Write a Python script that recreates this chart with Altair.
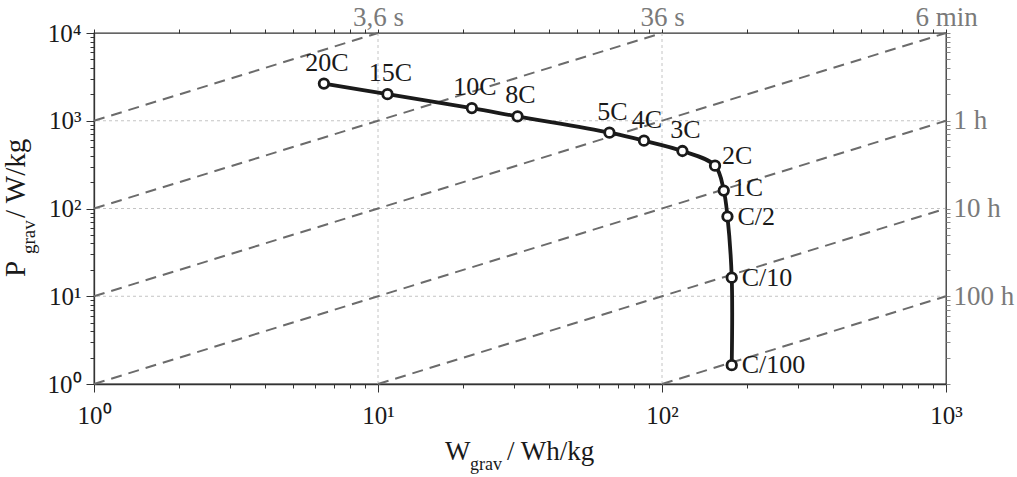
import altair as alt
import pandas as pd

# ---- data ----
rates = ["20C", "15C", "10C", "8C", "5C", "4C", "3C", "2C", "1C", "C/2", "C/10", "C/100"]
w_grav = [6.45, 10.8, 21.4, 31.0, 65.3, 86.4, 118, 153.7, 165, 170, 176, 176]
p_grav = [2655, 2011, 1394, 1120, 731, 593, 452, 308, 160, 81, 16.3, 1.64]
label_side = ["above"] * 7 + ["upper right", "right high"] + ["right"] * 3

# constant discharge-time lines (hours)
time_h = [0.001, 0.01, 0.1, 1, 10, 100]

x_ticks = [m * 10 ** e for e in range(3) for m in range(1, 10)] + [1000]
y_ticks = [m * 10 ** e for e in range(4) for m in range(1, 10)] + [10000]

x_major = {1: "10\u2070", 10: "10\u00b9", 100: "10\u00b2", 1000: "10\u00b3"}
y_major = {1: "10\u2070", 10: "10\u00b9", 100: "10\u00b2", 1000: "10\u00b3", 10000: "10\u2074"}
top_labels = {10: "3,6 s", 100: "36 s", 1000: "6 min"}
right_labels = {1000: "1 h", 100: "10 h", 10: "100 h"}

x_grid = [10, 100]
y_grid = [10, 100, 1000]

FONT = "Times New Roman, Liberation Serif, serif"
INK = "#1a1a1a"
GRAY = "#7a7a7a"


def label_expr(mapping):
    expr = "''"
    for k, v in reversed(list(mapping.items())):
        expr = f"datum.value == {k} ? '{v}' : ({expr})"
    return expr


def major_test(mapping):
    vals = ",".join(str(k) for k in mapping)
    return f"indexof([{vals}], datum.value) >= 0"


df = pd.DataFrame({"rate": rates, "W": w_grav, "P": p_grav,
                   "side": label_side, "i": list(range(len(rates)))})

rows = []
for t in time_h:
    w0 = max(1.0, t)
    w1 = min(1000.0, 10000.0 * t)
    rows.append({"t": t, "W": w0, "P": w0 / t})
    rows.append({"t": t, "W": w1, "P": w1 / t})
diag_df = pd.DataFrame(rows)

xs = alt.Scale(type="log", domain=[1, 1000], nice=False)
ys = alt.Scale(type="log", domain=[1, 10000], nice=False)

bottom_axis = alt.Axis(orient="bottom", values=x_ticks, labelExpr=label_expr(x_major),
                       title=None, grid=False, labelOverlap=False, labelFlush=False,
                       labelBound=False, labelFontSize=25, labelColor=INK, labelFont=FONT,
                       labelPadding=11,
                       tickSize={"condition": {"test": major_test(x_major), "value": 8}, "value": 4})
left_axis = alt.Axis(orient="left", values=y_ticks, labelExpr=label_expr(y_major),
                     title=None, grid=False, labelOverlap=False, labelFlush=False,
                     labelBound=False, labelFontSize=25, labelColor=INK, labelFont=FONT,
                     labelPadding=5, labelBaseline="middle",
                     tickSize={"condition": {"test": major_test(y_major), "value": 8}, "value": 4})
top_axis = alt.Axis(orient="top", values=x_ticks, labelExpr=label_expr(top_labels),
                    title=None, grid=False, labelOverlap=False, labelFlush=False,
                    labelBound=False, labelFontSize=27, labelColor=GRAY, labelFont=FONT,
                    labelPadding=4, labelBaseline="alphabetic", domain=False, tickSize=4)
right_axis = alt.Axis(orient="right", values=y_ticks, labelExpr=label_expr(right_labels),
                      title=None, grid=False, labelOverlap=False, labelFlush=False,
                      labelBound=False, labelFontSize=27, labelColor=GRAY, labelFont=FONT,
                      labelPadding=3, labelBaseline="middle", domain=False, tickSize=4,
                      tickColor="#888888")

grid_x = alt.Chart(pd.DataFrame({"g": x_grid})).mark_rule(
    color="#c4c4c4", strokeDash=[3, 3], strokeWidth=1
).encode(x=alt.X("g:Q", scale=xs, axis=None))

grid_y = alt.Chart(pd.DataFrame({"g": y_grid})).mark_rule(
    color="#c4c4c4", strokeDash=[3, 3], strokeWidth=1
).encode(y=alt.Y("g:Q", scale=ys, axis=None))

diag = alt.Chart(diag_df).mark_line(
    color="#6b6b6b", strokeDash=[11, 7], strokeWidth=2
).encode(
    x=alt.X("W:Q", scale=xs, axis=top_axis),
    y=alt.Y("P:Q", scale=ys, axis=right_axis),
    detail="t:N",
)

curve = alt.Chart(df).mark_line(
    color=INK, strokeWidth=3.8, interpolate="catmull-rom"
).encode(
    x=alt.X("W:Q", scale=xs, axis=None),
    y=alt.Y("P:Q", scale=ys, axis=None),
    order="i:Q",
)

points = alt.Chart(df).mark_circle(
    fill="white", stroke=INK, strokeWidth=2.8, size=90, opacity=1
).encode(
    x=alt.X("W:Q", scale=xs, axis=bottom_axis),
    y=alt.Y("P:Q", scale=ys, axis=left_axis),
)


def labels(side, align, dx, dy):
    return alt.Chart(df).transform_filter(alt.datum.side == side).mark_text(
        align=align, baseline="middle", dx=dx, dy=dy, fontSize=26, font=FONT, color=INK
    ).encode(
        x=alt.X("W:Q", scale=xs, axis=None),
        y=alt.Y("P:Q", scale=ys, axis=None),
        text="rate:N",
    )


lab_above = labels("above", "center", 3, -21)
lab_ur = labels("upper right", "left", 7, -10)
lab_rh = labels("right high", "left", 9, -3)
lab_right = labels("right", "left", 10, 0)


def title_piece(text, x, y, size, angle=0):
    kw = dict(text=text, align="left", baseline="alphabetic", fontSize=size, font=FONT, color=INK)
    if angle:
        kw["angle"] = angle
    return alt.Chart(pd.DataFrame({"a": [0]})).mark_text(**kw).encode(
        x=alt.value(x), y=alt.value(y))


xt1 = title_piece("W", 351, 427, 27)
xt2 = title_piece("grav", 376, 437, 18)
xt3 = title_piece("/ Wh/kg", 413, 427, 27)

yt1 = title_piece("P", -69, 244, 29, 270)
yt2 = title_piece("grav", -59, 221, 19, 270)
yt3 = title_piece("/ W/kg", -69, 185, 29, 270)

chart = alt.layer(
    grid_x, grid_y, diag, curve, points, lab_above, lab_ur, lab_rh, lab_right,
    xt1, xt2, xt3, yt1, yt2, yt3,
).resolve_axis(x="independent", y="independent").properties(
    width=852, height=351,
    autosize=alt.AutoSizeParams(type="none"),
    padding={"left": 94, "top": 33, "right": 71, "bottom": 93},
    background="white",
).configure_view(
    stroke="#333333", strokeWidth=1.3
).configure_axis(
    domainColor="#333333", tickColor="#333333", domainWidth=1.3, tickWidth=1
).configure_text(font=FONT)

chart.save("out.html", embed_options={"renderer": "svg", "actions": False})
